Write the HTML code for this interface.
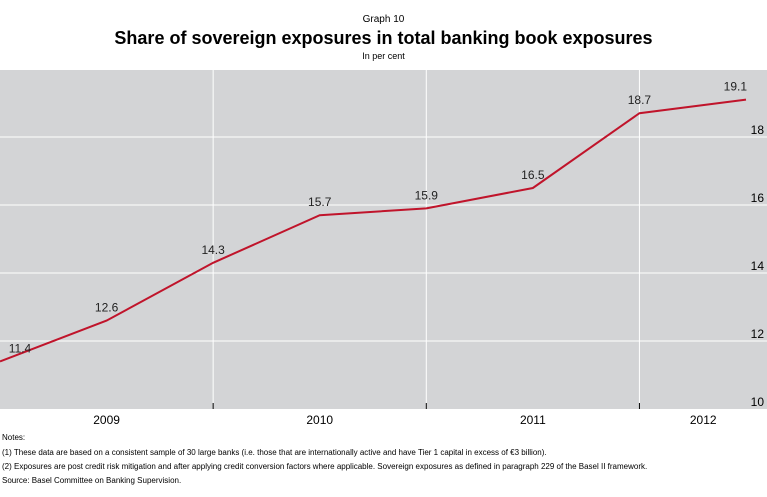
<!DOCTYPE html>
<html><head><meta charset="utf-8"><style>
body{margin:0;width:767px;height:497px;background:#fff;font-family:"Liberation Sans",sans-serif;overflow:hidden;position:relative}
.t{position:absolute;left:0;width:767px;text-align:center;color:#000}
.n{position:absolute;left:2px;font-size:8px;color:#000;white-space:nowrap}
</style></head><body>
<div class="t" style="top:14px;font-size:10px">Graph 10</div>
<div class="t" style="top:28px;font-size:18px;font-weight:bold">Share of sovereign exposures in total banking book exposures</div>
<div class="t" style="top:51px;font-size:9px">In per cent</div>
<svg id="c" width="767" height="497" style="position:absolute;left:0;top:0"></svg>
<div class="n" style="top:433px">Notes:</div>
<div class="n" style="top:448px">(1) These data are based on a consistent sample of 30 large banks (i.e. those that are internationally active and have Tier 1 capital in excess of €3 billion).</div>
<div class="n" style="top:462px">(2) Exposures are post credit risk mitigation and after applying credit conversion factors where applicable. Sovereign exposures as defined in paragraph 229 of the Basel II framework.</div>
<div class="n" style="top:476px">Source: Basel Committee on Banking Supervision.</div>
<script>
const values=[11.4,12.6,14.3,15.7,15.9,16.5,18.7,19.1];
const labels=["11.4","12.6","14.3","15.7","15.9","16.5","18.7","19.1"];
const years=["2009","2010","2011","2012"];
const yTicks=[10,12,14,16,18];
const NS="http://www.w3.org/2000/svg";
const svg=document.getElementById('c');
const L=0,R=767,T=70,B=409,step=746/7;
const x=i=>L+i*step;
const y=v=>B-(v-10)*34;
function mk(t,a){const e=document.createElementNS(NS,t);for(const k in a)e.setAttribute(k,a[k]);svg.appendChild(e);return e;}
const bg=mk('rect',{x:L,y:T,width:R-L,height:B-T,fill:'#d3d4d6'});


yTicks.forEach(v=>{
 if(v>10){const g=mk('line',{x1:L,x2:R,y1:y(v),y2:y(v),stroke:'#fff','stroke-width':1});
 
 }
 const t=mk('text',{x:764,y:y(v)-3,'text-anchor':'end','font-size':12,fill:'#000'});
 t.textContent=v;
 
 
});
for(let k=1;k<years.length;k++){
 const xx=x(2*k);
 const g=mk('line',{x1:xx,x2:xx,y1:T,y2:B,stroke:'#fff','stroke-width':1});
 
 
 const tk=mk('line',{x1:xx,x2:xx,y1:B-6,y2:B,stroke:'#000','stroke-width':1});
 
 
}
years.forEach((yr,k)=>{
 const a=x(2*k), b=Math.min(x(2*k+2),R);
 const t=mk('text',{x:(a+b)/2,y:424,'text-anchor':'middle','font-size':12,fill:'#000'});
 t.textContent=yr;
 
 
});
const p=mk('polyline',{points:values.map((v,i)=>x(i)+','+y(v)).join(' '),fill:'none',stroke:'#c0142b','stroke-width':2});


values.forEach((v,i)=>{
 const t=mk('text',{x:Math.max(x(i),20),y:y(v)-9,'text-anchor':i==values.length-1?'end':'middle','font-size':12,fill:'#222'});
 if(i==values.length-1)t.setAttribute('x',x(i)+1);
 t.textContent=labels[i];
 
 
});
</script>
</body></html>
